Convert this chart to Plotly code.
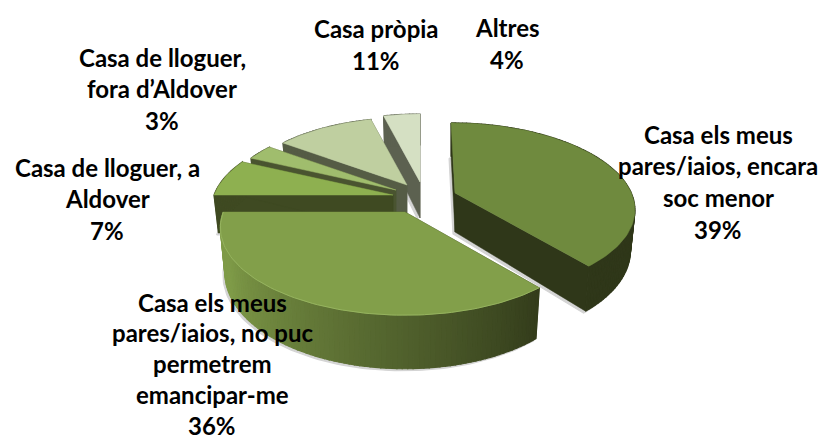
import math
import plotly.graph_objects as go

# ---- data ----
categories = [
    "Casa els meus pares/iaios, encara soc menor",
    "Casa els meus pares/iaios, no puc permetrem emancipar-me",
    "Casa de lloguer, a Aldover",
    "Casa de lloguer, fora d’Aldover",
    "Casa pròpia",
    "Altres",
]
values = [39, 36, 7, 3, 11, 4]
label_lines = [
    ["Casa els meus", "pares/iaios, encara", "soc menor", "39%"],
    ["Casa els meus", "pares/iaios, no puc", "permetrem", "emancipar-me", "36%"],
    ["Casa de lloguer, a", "Aldover", "7%"],
    ["Casa de lloguer,", "fora d’Aldover", "3%"],
    ["Casa pròpia", "11%"],
    ["Altres", "4%"],
]

# ---- style / layout ----
top_colors = ["#6f8a3e", "#829f4a", "#8eb050", "#a0bd6d", "#bfcfa0", "#d5e0c3"]
wall_colors = ["#2f3719", "#333c1b", "#3f4a22", "#4a5430", "#555c45", "#5c6150"]
apexes = [(455, 193), (405, 212), (393, 195), (396, 190), (407, 185), (420, 182)]
radii = [0.985, 1.015, 1.0, 0.96, 0.94, 0.95]
skews = [0.056, 0, 0, 0, 0, 0]
depths = [39, 44, 38, 34, 34, 36]
label_pos = [(718, 134, 31.7), (212, 302, 30.9), (107, 167, 31.5), (162, 57, 31.5), (376, 28, 32), (507, 27, 32)]
R, RY, K = 179, 83.5, 0.176
BASE_SCALE = 0.975


def project(i, theta, r=1.0, depth=0.0):
    """Tilted-disc projection of a polar point of slice i."""
    apex = apexes[i]
    r = r * radii[i]
    sx, cy = math.sin(theta) * r, math.cos(theta) * r
    p = 1 / (1 + K * cy)
    scale = BASE_SCALE if depth else 1
    dy = -RY * cy * p
    return apex[0] + R * sx * p * scale + skews[i] * dy, apex[1] + dy + depth * (p if depth else 0)


def arc(a0, a1):
    n = max(2, int(abs(a1 - a0) * 40))
    return [a0 + (a1 - a0) * i / n for i in range(n + 1)]


def mix(c1, c2, t):
    a = [int(c1[i:i + 2], 16) for i in (1, 3, 5)]
    b = [int(c2[i:i + 2], 16) for i in (1, 3, 5)]
    return "#%02x%02x%02x" % tuple(round(x + (y - x) * t) for x, y in zip(a, b))


fig = go.Figure()


def poly(points, color, width=1.2):
    xs = [p[0] for p in points] + [points[0][0]]
    ys = [p[1] for p in points] + [points[0][1]]
    fig.add_trace(go.Scatter(x=xs, y=ys, mode="lines", fill="toself", fillcolor=color,
                             line=dict(color=color, width=width), hoverinfo="skip", showlegend=False))


total = sum(values)
angles = [0]
for v in values:
    angles.append(angles[-1] + 2 * math.pi * v / total)

# paint back to front
for i in [5, 4, 3, 2, 0, 1]:
    a0, a1 = angles[i], angles[i + 1]
    d, top, wall = depths[i], top_colors[i], wall_colors[i]
    ts = arc(a0, a1)
    # soft shadow
    shadow = [(project(i, t, 1, d)[0] - 2, project(i, t, 1, d)[1] + 2) for t in ts]
    shadow.append((apexes[i][0] - 2, apexes[i][1] + d + 2))
    poly(shadow, "#d4d4d4")
    # radial walls
    for t in (a0, a1):
        poly([project(i, t), project(i, 0, 0), project(i, 0, 0, d), project(i, t, 1, d)], wall, 0.5)
    # rim, shaded in strips where it faces the viewer
    for t0, t1 in zip(ts[:-1], ts[1:]):
        if i == 1:
            f = (0.5 * (t0 + t1) - a0) / (a1 - a0)
            color = mix("#333c1b", "#7f9b48", min(1, f * 1.25))
        else:
            color = wall
        poly([project(i, t0), project(i, t1), project(i, t1, 1, d), project(i, t0, 1, d)], color)
    # top face
    poly([project(i, t) for t in ts] + [project(i, 0, 0)], top, 0.5)
    if i == 1:
        # light bevel along the front edge
        fig.add_trace(go.Scatter(x=[project(i, t)[0] for t in ts], y=[project(i, t)[1] for t in ts],
                                 mode="lines", line=dict(color="#96b45f", width=1),
                                 hoverinfo="skip", showlegend=False))

annotations = []
for lines, (cx, y0, step) in zip(label_lines, label_pos):
    for j, line in enumerate(lines):
        annotations.append(dict(x=cx, y=y0 + j * step, xref="x", yref="y", text="<b>" + line + "</b>", showarrow=False,
                                xanchor="center", yanchor="middle",
                                font=dict(family="Lato, Carlito, Calibri, sans-serif", size=24, color="#000000")))

fig.update_layout(
    width=833, height=442, margin=dict(l=0, r=0, t=0, b=0),
    paper_bgcolor="#ffffff", plot_bgcolor="#ffffff", showlegend=False,
    xaxis=dict(range=[0, 833], visible=False, fixedrange=True),
    yaxis=dict(range=[442, 0], visible=False, fixedrange=True),
    annotations=annotations,
)
fig.write_html("out.html", config={"displayModeBar": False},
               post_script="document.body.style.margin='0';document.body.style.overflow='hidden';")
